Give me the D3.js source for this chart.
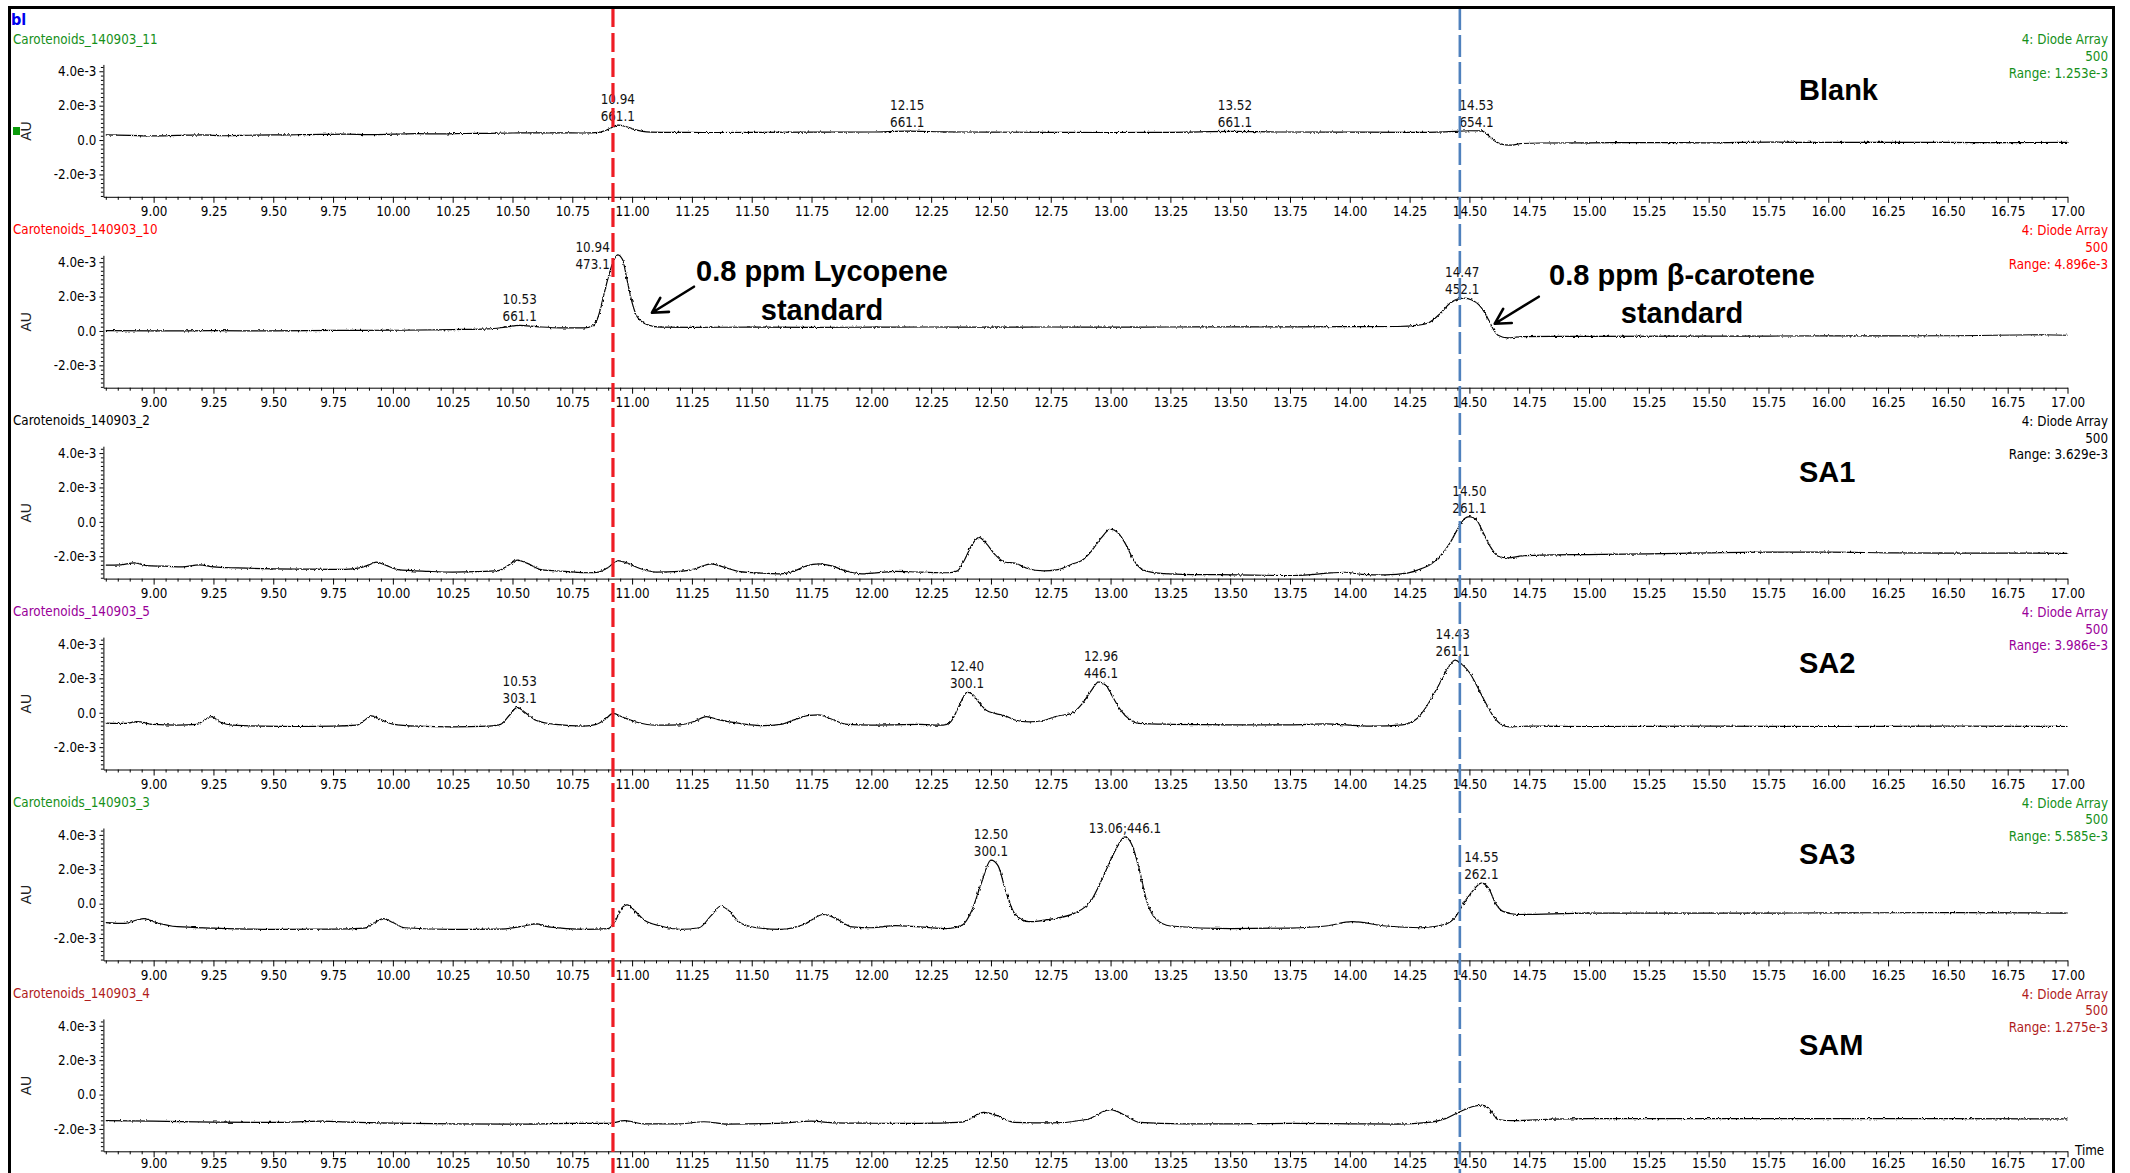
<!DOCTYPE html>
<html>
<head>
<meta charset="utf-8">
<script src="https://cdn.jsdelivr.net/npm/d3@7"></script>
<style>
  html, body { margin: 0; padding: 0; background: #fff; }
  svg { display: block; }
  .narrow { font-family: "Liberation Sans Narrow", "Arial Narrow", "DejaVu Sans Condensed", sans-serif; }
  .bold { font-family: "Liberation Sans", Arial, sans-serif; font-weight: bold; }
</style>
</head>
<body>
<svg id="chart" width="2130" height="1173"></svg>
<script>
// ---------------------------------------------------------------
// Chromatogram stack: 4: Diode Array, 500 nm channel
// Signal values are in units of 1e-3 AU, time in minutes.
// ---------------------------------------------------------------

const runNames = [
  "Carotenoids_140903_11", "Carotenoids_140903_10", "Carotenoids_140903_2",
  "Carotenoids_140903_5", "Carotenoids_140903_3", "Carotenoids_140903_4"
];
const sampleNames = ["Blank", "", "SA1", "SA2", "SA3", "SAM"];
const detectorName = "4: Diode Array";
const channelName = "500";
const rangeLabels = [
  "Range: 1.253e-3", "Range: 4.896e-3", "Range: 3.629e-3",
  "Range: 3.986e-3", "Range: 5.585e-3", "Range: 1.275e-3"
];

const timeDomain = [8.79, 17.0];
const signalDomain = [-3.3, 4.4];
const xTickValues = [9.00, 9.25, 9.50, 9.75, 10.00, 10.25, 10.50, 10.75, 11.00, 11.25, 11.50, 11.75,
  12.00, 12.25, 12.50, 12.75, 13.00, 13.25, 13.50, 13.75, 14.00, 14.25, 14.50, 14.75,
  15.00, 15.25, 15.50, 15.75, 16.00, 16.25, 16.50, 16.75, 17.00];
const xTickLabels = ["9.00", "9.25", "9.50", "9.75", "10.00", "10.25", "10.50", "10.75", "11.00", "11.25",
  "11.50", "11.75", "12.00", "12.25", "12.50", "12.75", "13.00", "13.25", "13.50", "13.75", "14.00",
  "14.25", "14.50", "14.75", "15.00", "15.25", "15.50", "15.75", "16.00", "16.25", "16.50", "16.75", "17.00"];
const yTickValues = [-2, 0, 2, 4];
const yTickLabels = ["-2.0e-3", "0.0", "2.0e-3", "4.0e-3"];

// Retention times of the two standards (marker lines)
const lycopeneTime = 10.92;
const betaCaroteneTime = 14.46;

// Traces: [time, signal]
const traceBlank = [
  [8.80,0.30],[8.90,0.27],[9.00,0.24],[9.10,0.27],[9.20,0.30],[9.30,0.25],[9.40,0.28],[9.50,0.30],
  [9.60,0.31],[9.70,0.33],[9.80,0.34],[9.90,0.32],[10.00,0.34],[10.10,0.37],[10.20,0.36],[10.30,0.38],
  [10.40,0.39],[10.50,0.41],[10.60,0.42],[10.70,0.42],[10.80,0.41],[10.86,0.45],[10.90,0.62],[10.94,0.87],
  [10.98,0.76],[11.02,0.58],[11.06,0.48],[11.15,0.45],[11.30,0.44],[11.50,0.45],[11.75,0.46],[12.00,0.47],
  [12.15,0.52],[12.30,0.48],[12.50,0.46],[12.75,0.45],[13.00,0.44],[13.25,0.45],[13.52,0.50],[13.70,0.47],
  [14.00,0.46],[14.25,0.45],[14.40,0.48],[14.50,0.54],[14.55,0.53],[14.57,0.38],[14.60,0.00],[14.63,-0.22],
  [14.67,-0.30],[14.72,-0.20],[14.80,-0.17],[15.00,-0.16],[15.25,-0.15],[15.50,-0.16],[15.75,-0.12],
  [16.00,-0.14],[16.25,-0.13],[16.50,-0.14],[16.75,-0.15],[17.00,-0.13]
];
const traceLycStd = [
  [8.80,0.02],[9.00,0.00],[9.25,0.02],[9.50,0.00],[9.75,0.03],[10.00,0.04],[10.25,0.08],[10.40,0.12],
  [10.47,0.22],[10.53,0.32],[10.60,0.25],[10.70,0.18],[10.80,0.18],[10.84,0.35],[10.86,0.90],[10.88,2.00],
  [10.90,3.10],[10.92,4.00],[10.94,4.43],[10.96,4.15],[10.98,2.90],[11.00,1.65],[11.02,0.85],[11.04,0.55],
  [11.07,0.33],[11.12,0.22],[11.25,0.21],[11.50,0.22],[11.75,0.21],[12.00,0.22],[12.25,0.23],[12.50,0.22],
  [12.75,0.23],[13.00,0.22],[13.25,0.23],[13.50,0.24],[13.75,0.24],[14.00,0.25],[14.20,0.26],[14.28,0.33],
  [14.33,0.48],[14.38,1.04],[14.42,1.62],[14.45,1.85],[14.48,1.91],[14.51,1.80],[14.54,1.52],[14.56,1.15],
  [14.58,0.65],[14.60,0.10],[14.62,-0.25],[14.66,-0.40],[14.72,-0.33],[15.00,-0.31],[15.50,-0.30],
  [16.00,-0.29],[16.50,-0.28],[16.90,-0.22],[17.00,-0.25]
];
const traceSA1 = [
  [8.80,-2.52],[8.86,-2.50],[8.92,-2.38],[8.97,-2.55],[9.05,-2.58],[9.12,-2.62],[9.19,-2.50],[9.25,-2.62],
  [9.35,-2.68],[9.50,-2.73],[9.65,-2.75],[9.80,-2.76],[9.86,-2.68],[9.90,-2.50],[9.93,-2.34],[9.97,-2.52],
  [10.02,-2.78],[10.15,-2.88],[10.25,-2.92],[10.35,-2.90],[10.44,-2.84],[10.48,-2.55],[10.52,-2.22],
  [10.56,-2.40],[10.62,-2.78],[10.72,-2.88],[10.82,-2.96],[10.86,-2.92],[10.90,-2.65],[10.94,-2.25],
  [10.98,-2.40],[11.03,-2.70],[11.10,-2.92],[11.20,-2.88],[11.26,-2.75],[11.33,-2.44],[11.38,-2.62],
  [11.45,-2.89],[11.55,-2.98],[11.62,-3.02],[11.68,-2.85],[11.73,-2.55],[11.78,-2.44],[11.83,-2.55],
  [11.90,-2.88],[11.96,-3.02],[12.03,-2.95],[12.10,-2.88],[12.20,-2.92],[12.32,-2.96],[12.36,-2.85],
  [12.39,-2.20],[12.42,-1.35],[12.45,-0.90],[12.48,-1.25],[12.52,-1.95],[12.56,-2.35],[12.60,-2.40],
  [12.65,-2.70],[12.72,-2.85],[12.78,-2.78],[12.84,-2.45],[12.88,-2.25],[12.92,-1.70],[12.96,-0.95],
  [13.00,-0.42],[13.03,-0.62],[13.06,-1.22],[13.10,-2.30],[13.14,-2.82],[13.20,-2.98],[13.30,-3.05],
  [13.45,-3.07],[13.60,-3.10],[13.75,-3.12],[13.85,-3.05],[13.92,-2.97],[13.98,-2.93],[14.05,-3.05],
  [14.15,-3.08],[14.24,-2.98],[14.30,-2.72],[14.34,-2.45],[14.38,-1.95],[14.42,-1.20],[14.45,-0.44],
  [14.48,0.20],[14.50,0.30],[14.53,0.10],[14.56,-0.70],[14.59,-1.50],[14.62,-2.00],[14.66,-2.10],
  [14.72,-1.98],[14.80,-1.93],[15.00,-1.90],[15.25,-1.86],[15.50,-1.80],[15.75,-1.76],[16.00,-1.76],
  [16.25,-1.80],[16.50,-1.82],[16.75,-1.82],[17.00,-1.83]
];
const traceSA2 = [
  [8.80,-0.60],[8.88,-0.62],[8.93,-0.52],[9.00,-0.68],[9.10,-0.72],[9.18,-0.68],[9.21,-0.45],[9.24,-0.22],
  [9.28,-0.55],[9.33,-0.72],[9.45,-0.78],[9.60,-0.80],[9.75,-0.78],[9.85,-0.72],[9.88,-0.45],[9.91,-0.18],
  [9.95,-0.40],[10.00,-0.66],[10.10,-0.78],[10.25,-0.82],[10.40,-0.78],[10.45,-0.68],[10.49,-0.10],
  [10.52,0.31],[10.55,0.05],[10.60,-0.45],[10.68,-0.68],[10.80,-0.78],[10.85,-0.68],[10.89,-0.35],
  [10.92,-0.04],[10.96,-0.25],[11.02,-0.55],[11.10,-0.72],[11.20,-0.70],[11.26,-0.50],[11.31,-0.22],
  [11.36,-0.40],[11.45,-0.62],[11.55,-0.75],[11.62,-0.68],[11.68,-0.40],[11.74,-0.15],[11.78,-0.12],
  [11.83,-0.35],[11.90,-0.68],[12.00,-0.72],[12.10,-0.70],[12.20,-0.68],[12.30,-0.72],[12.33,-0.55],
  [12.36,0.20],[12.38,0.80],[12.40,1.18],[12.42,1.10],[12.45,0.60],[12.48,0.15],[12.52,-0.05],
  [12.56,-0.18],[12.60,-0.42],[12.66,-0.53],[12.72,-0.45],[12.77,-0.22],[12.84,-0.02],[12.88,0.50],
  [12.92,1.30],[12.95,1.80],[12.98,1.60],[13.01,0.90],[13.04,0.20],[13.08,-0.40],[13.12,-0.62],
  [13.25,-0.67],[13.50,-0.70],[13.75,-0.70],[13.90,-0.65],[14.00,-0.72],[14.10,-0.78],[14.22,-0.70],
  [14.28,-0.35],[14.32,0.35],[14.37,1.56],[14.41,2.60],[14.44,3.06],[14.47,2.80],[14.50,2.34],
  [14.53,1.60],[14.56,0.79],[14.60,-0.20],[14.63,-0.65],[14.67,-0.82],[14.75,-0.78],[15.00,-0.80],
  [15.50,-0.78],[16.00,-0.80],[16.50,-0.78],[17.00,-0.80]
];
const traceSA3 = [
  [8.80,-1.10],[8.88,-1.15],[8.93,-0.95],[8.96,-0.87],[9.00,-1.05],[9.10,-1.34],[9.25,-1.42],[9.50,-1.49],
  [9.75,-1.48],[9.88,-1.42],[9.93,-1.05],[9.96,-0.87],[10.00,-1.10],[10.05,-1.40],[10.25,-1.50],
  [10.45,-1.48],[10.55,-1.30],[10.60,-1.17],[10.65,-1.35],[10.80,-1.49],[10.90,-1.45],[10.93,-1.00],
  [10.96,-0.20],[10.98,-0.07],[11.01,-0.40],[11.05,-0.95],[11.12,-1.30],[11.20,-1.49],[11.28,-1.40],
  [11.33,-0.70],[11.37,-0.15],[11.40,-0.35],[11.45,-1.10],[11.52,-1.40],[11.62,-1.50],[11.72,-1.20],
  [11.80,-0.63],[11.85,-0.85],[11.92,-1.35],[12.00,-1.40],[12.10,-1.28],[12.20,-1.35],[12.32,-1.45],
  [12.38,-1.25],[12.42,-0.40],[12.46,1.20],[12.50,2.53],[12.53,2.20],[12.56,0.80],[12.60,-0.60],
  [12.66,-1.05],[12.75,-0.90],[12.85,-0.55],[12.92,0.20],[12.97,1.60],[13.02,3.10],[13.06,3.88],
  [13.09,3.40],[13.12,2.00],[13.15,0.20],[13.19,-0.90],[13.25,-1.30],[13.50,-1.45],[13.75,-1.42],
  [13.90,-1.30],[14.01,-1.05],[14.15,-1.30],[14.30,-1.40],[14.40,-1.20],[14.44,-0.80],[14.48,0.10],
  [14.52,0.85],[14.55,1.19],[14.58,0.90],[14.61,0.00],[14.64,-0.45],[14.70,-0.63],[15.00,-0.55],
  [15.50,-0.55],[16.00,-0.54],[16.50,-0.52],[17.00,-0.55]
];
const traceSAM = [
  [8.80,-1.52],[9.00,-1.55],[9.25,-1.60],[9.50,-1.62],[9.70,-1.55],[9.85,-1.62],[10.00,-1.66],[10.25,-1.70],
  [10.50,-1.72],[10.75,-1.68],[10.90,-1.68],[10.97,-1.52],[11.05,-1.70],[11.20,-1.70],[11.30,-1.58],
  [11.40,-1.72],[11.60,-1.68],[11.75,-1.55],[11.85,-1.65],[12.00,-1.67],[12.20,-1.68],[12.38,-1.60],
  [12.47,-1.04],[12.52,-1.20],[12.60,-1.62],[12.75,-1.65],[12.90,-1.45],[13.00,-0.88],[13.06,-1.20],
  [13.12,-1.62],[13.30,-1.70],[13.50,-1.70],[13.75,-1.68],[14.00,-1.70],[14.20,-1.72],[14.33,-1.62],
  [14.40,-1.40],[14.46,-1.00],[14.52,-0.68],[14.55,-0.62],[14.58,-0.80],[14.62,-1.45],[14.68,-1.52],
  [14.80,-1.45],[15.00,-1.40],[15.50,-1.40],[16.00,-1.40],[16.50,-1.40],[17.00,-1.42]
];
const traces = [traceBlank, traceLycStd, traceSA1, traceSA2, traceSA3, traceSAM];

// Peak annotations: [retention time, second line]
const peaksBlank = [[10.94, "661.1"], [12.15, "661.1"], [13.52, "661.1"], [14.53, "654.1"]];
const peaksLycStd = [[10.53, "661.1"], [10.94, "473.1"], [14.47, "452.1"]];
const peaksSA1 = [[14.50, "261.1"]];
const peaksSA2 = [[10.53, "303.1"], [12.40, "300.1"], [12.96, "446.1"], [14.43, "261.1"]];
const peaksSA3 = [[12.50, "300.1"], [13.06, "446.1"], [14.55, "262.1"]];
const peaksSAM = [];
const peaks = [peaksBlank, peaksLycStd, peaksSA1, peaksSA2, peaksSA3, peaksSAM];

const standardNotes = [["0.8 ppm Lycopene", "standard"], ["0.8 ppm β-carotene", "standard"]];

// ---------------------------------------------------------------
// Styling / layout
// ---------------------------------------------------------------
const runColors = ["#16901a", "#ff0000", "#000000", "#990099", "#16901a", "#b01c1c"];
const panelTop0 = 38, panelStep = 190.9;
const plotTop = 26.4, plotBottom = 158.8;
const smallFont = 13.3;

// label placement tweaks: panel index + time -> mode
const labelMode = { "1:10.94": "left", "4:13.06": "inline" };

const svg = d3.select("#chart");
const x = d3.scaleLinear().domain(timeDomain).range([103.4, 2067.5]);

// detector noise texture on the traces
const defs = svg.append("defs");
const flt = defs.append("filter").attr("id", "detnoise")
  .attr("x", "-2%").attr("y", "-30%").attr("width", "104%").attr("height", "160%");
flt.append("feTurbulence").attr("type", "fractalNoise").attr("baseFrequency", "0.5 0.35")
  .attr("numOctaves", 1).attr("seed", 4).attr("result", "noise");
flt.append("feDisplacementMap").attr("in", "SourceGraphic").attr("in2", "noise")
  .attr("scale", 3).attr("xChannelSelector", "R").attr("yChannelSelector", "G");

const minorX = d3.range(176, 341).map(k => k / 20).filter(t => Math.abs(t * 4 - Math.round(t * 4)) > 1e-6);
const minorY = d3.range(-13, 18).map(k => k / 4).filter(v => Math.abs(v / 2 - Math.round(v / 2)) > 1e-6);

function valueAt(tr, t) {
  for (let k = 1; k < tr.length; k++) {
    if (tr[k][0] >= t) {
      const [t0, v0] = tr[k - 1], [t1, v1] = tr[k];
      return v0 + (v1 - v0) * (t - t0) / (t1 - t0);
    }
  }
  return tr[tr.length - 1][1];
}
function peakValue(tr, t) {
  let m = valueAt(tr, t);
  tr.forEach(([tt, v]) => { if (Math.abs(tt - t) <= 0.025 && v > m) m = v; });
  return m;
}

const panelScales = [];

runNames.forEach((name, i) => {
  const T = panelTop0 + i * panelStep;
  const y = d3.scaleLinear().domain(signalDomain).range([T + plotBottom, T + plotTop]);
  panelScales.push({ T, y });
  const g = svg.append("g");
  const col = runColors[i];
  const last = i === runNames.length - 1;

  // header texts
  g.append("text").attr("class", "narrow").attr("x", 13).attr("y", T + 5.5)
    .attr("font-size", smallFont).attr("fill", col).text(name);
  [detectorName, channelName, rangeLabels[i]].forEach((s, k) => {
    g.append("text").attr("class", "narrow").attr("x", 2108).attr("y", T + 6 + k * 16.8)
      .attr("text-anchor", "end").attr("font-size", smallFont).attr("fill", col).text(s);
  });

  // axes
  const gx = g.append("g").attr("transform", `translate(0,${T + plotBottom})`)
    .call(d3.axisBottom(x).tickValues(xTickValues).tickFormat((d, k) => xTickLabels[k])
      .tickSize(6).tickPadding(last ? 1.5 : 4).tickSizeOuter(0));
  g.append("g").attr("transform", `translate(0,${T + plotBottom})`)
    .call(d3.axisBottom(x).tickValues(minorX).tickFormat("").tickSize(3).tickSizeOuter(0))
    .select(".domain").remove();
  const gy = g.append("g").attr("transform", `translate(${x(timeDomain[0])},0)`)
    .call(d3.axisLeft(y).tickValues(yTickValues).tickFormat((d, k) => yTickLabels[k])
      .tickSize(4).tickSizeOuter(0));
  g.append("g").attr("transform", `translate(${x(timeDomain[0])},0)`)
    .call(d3.axisLeft(y).tickValues(minorY).tickFormat("").tickSize(2.5).tickSizeOuter(0))
    .select(".domain").remove();
  [gx, gy].forEach(a => {
    a.attr("font-family", null).attr("font-size", null);
    a.selectAll("text").attr("class", "narrow").attr("font-size", smallFont).attr("fill", "#000");
  });
  g.selectAll(".domain, .tick line").attr("stroke", "#000").attr("stroke-width", 1);

  // axis title
  g.append("text").attr("transform", `translate(31,${T + 93}) rotate(-90)`)
    .attr("text-anchor", "middle").attr("font-family", "Liberation Sans, Arial, sans-serif")
    .attr("font-size", 14).attr("fill", "#222").text("AU");
  if (i === 0) {
    g.append("rect").attr("x", 13).attr("y", T + 89).attr("width", 7).attr("height", 8).attr("fill", "#0a9a0a");
  }

  // trace
  const line = d3.line().x(d => x(d[0])).y(d => y(d[1])).curve(d3.curveMonotoneX);
  g.append("path").datum(traces[i]).attr("d", line)
    .attr("fill", "none").attr("stroke", "#000").attr("stroke-width", 1.2)
    .attr("filter", "url(#detnoise)");

  // peak labels
  peaks[i].forEach(([t, second]) => {
    const py = y(peakValue(traces[i], t));
    const mode = labelMode[`${i}:${t.toFixed(2)}`];
    const lbl = g.append("g").attr("class", "narrow").attr("font-size", smallFont).attr("fill", "#111");
    if (mode === "inline") {
      lbl.append("text").attr("x", x(t)).attr("y", py - 4).attr("text-anchor", "middle")
        .text(`${t.toFixed(2)};${second}`);
    } else if (mode === "left") {
      lbl.append("text").attr("x", x(t) - 8).attr("y", py - 3).attr("text-anchor", "end").text(t.toFixed(2));
      lbl.append("text").attr("x", x(t) - 8).attr("y", py + 14).attr("text-anchor", "end").text(second);
    } else {
      lbl.append("text").attr("x", x(t)).attr("y", py - 21).attr("text-anchor", "middle").text(t.toFixed(2));
      lbl.append("text").attr("x", x(t)).attr("y", py - 4).attr("text-anchor", "middle").text(second);
    }
  });

  // sample name
  if (sampleNames[i]) {
    g.append("text").attr("class", "bold").attr("x", 1799).attr("y", T + 62)
      .attr("font-size", 29).attr("fill", "#000").text(sampleNames[i]);
  }
  if (last) {
    g.append("text").attr("class", "narrow").attr("x", 2075).attr("y", T + plotBottom + 4)
      .attr("font-size", smallFont).attr("fill", "#000").text("Time");
  }
});

// marker lines at the standards' retention times
svg.append("line").attr("x1", x(lycopeneTime)).attr("x2", x(lycopeneTime)).attr("y1", 8).attr("y2", 1173)
  .attr("stroke", "#ee1c24").attr("stroke-width", 3.2).attr("stroke-dasharray", "19 6");
svg.append("line").attr("x1", x(betaCaroteneTime)).attr("x2", x(betaCaroteneTime)).attr("y1", 8).attr("y2", 1173)
  .attr("stroke", "#4f81bd").attr("stroke-width", 2.6).attr("stroke-dasharray", "22 5");

// standard annotations with arrows (panel 2)
const std = panelScales[1];
function arrow(tipT, tipV, dx, dy) {
  const tx = x(tipT), ty = std.y(tipV);
  const ang = Math.atan2(dy, dx), L = 17, spread = 29 * Math.PI / 180;
  const h1 = [tx + L * Math.cos(ang - spread), ty + L * Math.sin(ang - spread)];
  const h2 = [tx + L * Math.cos(ang + spread), ty + L * Math.sin(ang + spread)];
  svg.append("path")
    .attr("d", `M${tx + dx},${ty + dy}L${tx},${ty}M${h1[0]},${h1[1]}L${tx},${ty}L${h2[0]},${h2[1]}`)
    .attr("fill", "none").attr("stroke", "#000").attr("stroke-width", 2.6)
    .attr("stroke-linecap", "round").attr("stroke-linejoin", "round");
}
arrow(11.083, 1.06, 42, -26);
arrow(14.606, 0.42, 44, -27);

const noteX = [822, 1682], noteY = [[std.T + 52, std.T + 91], [std.T + 56, std.T + 94]];
standardNotes.forEach((lines, k) => {
  lines.forEach((s, j) => {
    svg.append("text").attr("class", "bold").attr("x", noteX[k]).attr("y", noteY[k][j])
      .attr("text-anchor", "middle").attr("font-size", 29).attr("fill", "#000").text(s);
  });
});

// window tag and frame
svg.append("text").attr("class", "narrow").attr("x", 11).attr("y", 25)
  .attr("font-size", 16).attr("font-weight", "bold").attr("fill", "#0000ee").text("bl");
svg.append("path").attr("d", "M9.5,1173V7.5H2113.5V1173")
  .attr("fill", "none").attr("stroke", "#000").attr("stroke-width", 3);
</script>
</body>
</html>
